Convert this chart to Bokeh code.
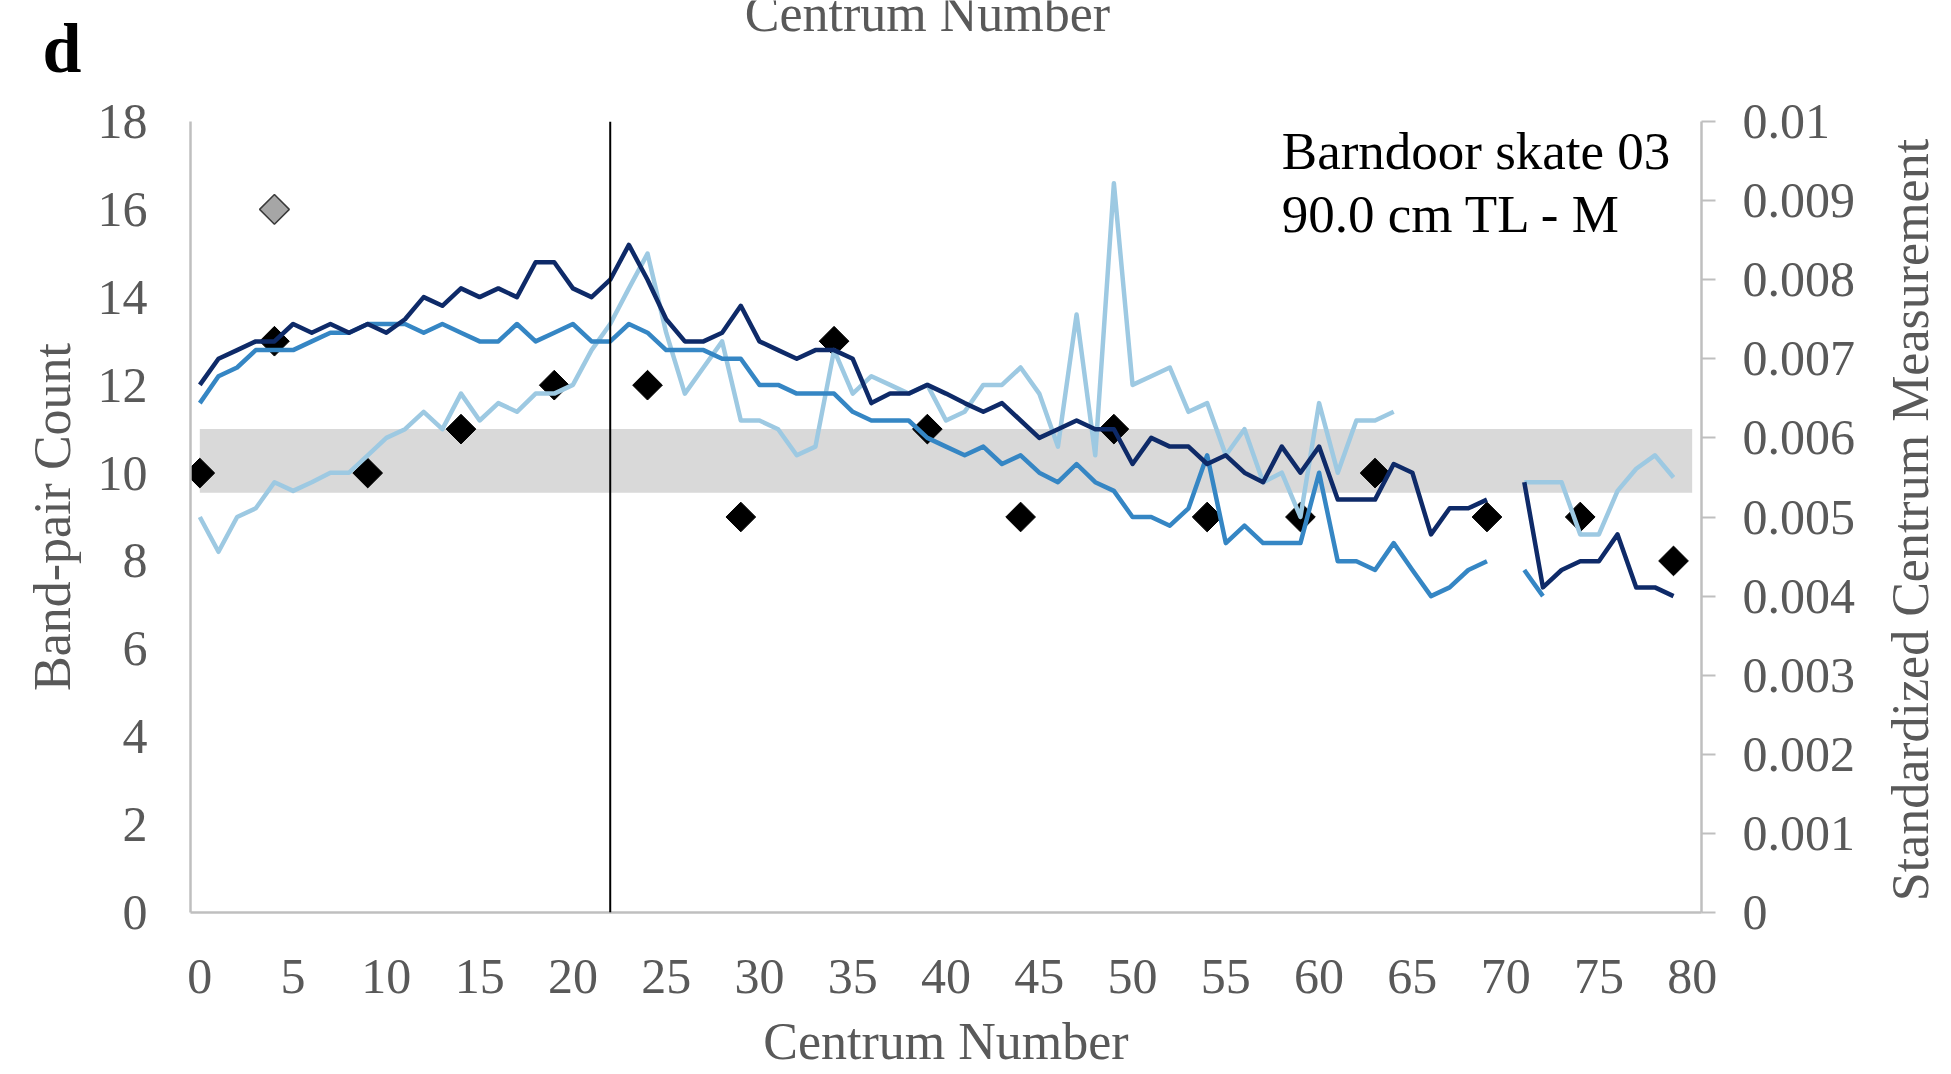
import math
from bokeh.plotting import figure
from bokeh.layouts import column, row
from bokeh.models import Range1d, LinearAxis, FixedTicker, CustomJSTickFormatter, Span, Label
from bokeh.core.properties import value
from bokeh.embed import file_html
from bokeh.resources import INLINE

NaN = float("nan")

# ---- data -------------------------------------------------------------
centrum = list(range(80))

# standardized centrum measurement, three series (right axis)
series_dark = [
    0.00667, 0.00700, 0.00711, 0.00722, 0.00722, 0.00744, 0.00733, 0.00744, 0.00733, 0.00744,
    0.00733, 0.00750, 0.00778, 0.00767, 0.00789, 0.00778, 0.00789, 0.00778, 0.00822, 0.00822,
    0.00789, 0.00778, 0.00800, 0.00844, 0.00800, 0.00750, 0.00722, 0.00722, 0.00733, 0.00767,
    0.00722, 0.00711, 0.00700, 0.00711, 0.00711, 0.00700, 0.00644, 0.00656, 0.00656, 0.00667,
    0.00656, 0.00644, 0.00633, 0.00644, 0.00622, 0.00600, 0.00611, 0.00622, 0.00611, 0.00611,
    0.00567, 0.00600, 0.00589, 0.00589, 0.00567, 0.00578, 0.00556, 0.00544, 0.00589, 0.00556,
    0.00589, 0.00522, 0.00522, 0.00522, 0.00567, 0.00556, 0.00478, 0.00511, 0.00511, 0.00522,
    NaN,     0.00544, 0.00411, 0.00433, 0.00444, 0.00444, 0.00478, 0.00411, 0.00411, 0.00400,
]
series_mid = [
    0.00644, 0.00678, 0.00689, 0.00711, 0.00711, 0.00711, 0.00722, 0.00733, 0.00733, 0.00744,
    0.00744, 0.00744, 0.00733, 0.00744, 0.00733, 0.00722, 0.00722, 0.00744, 0.00722, 0.00733,
    0.00744, 0.00722, 0.00722, 0.00744, 0.00733, 0.00711, 0.00711, 0.00711, 0.00700, 0.00700,
    0.00667, 0.00667, 0.00656, 0.00656, 0.00656, 0.00633, 0.00622, 0.00622, 0.00622, 0.00600,
    0.00589, 0.00578, 0.00589, 0.00567, 0.00578, 0.00556, 0.00544, 0.00567, 0.00544, 0.00533,
    0.00500, 0.00500, 0.00489, 0.00511, 0.00578, 0.00467, 0.00489, 0.00467, 0.00467, 0.00467,
    0.00556, 0.00444, 0.00444, 0.00433, 0.00467, 0.00433, 0.00400, 0.00411, 0.00433, 0.00444,
    NaN,     0.00433, 0.00400, NaN,     NaN,     NaN,     NaN,     NaN,     NaN,     NaN,
]
series_light = [
    0.00500, 0.00456, 0.00500, 0.00511, 0.00544, 0.00533, 0.00544, 0.00556, 0.00556, 0.00578,
    0.00600, 0.00611, 0.00633, 0.00611, 0.00656, 0.00622, 0.00644, 0.00633, 0.00656, 0.00656,
    0.00667, 0.00711, 0.00744, 0.00789, 0.00833, 0.00733, 0.00656, 0.00689, 0.00722, 0.00622,
    0.00622, 0.00611, 0.00578, 0.00589, 0.00711, 0.00656, 0.00678, 0.00667, 0.00656, 0.00667,
    0.00622, 0.00633, 0.00667, 0.00667, 0.00689, 0.00656, 0.00589, 0.00756, 0.00578, 0.00922,
    0.00667, 0.00678, 0.00689, 0.00633, 0.00644, 0.00578, 0.00611, 0.00544, 0.00556, 0.00500,
    0.00644, 0.00556, 0.00622, 0.00622, 0.00633, NaN,     NaN,     NaN,     NaN,     NaN,
    NaN,     0.00544, 0.00544, 0.00544, 0.00478, 0.00478, 0.00533, 0.00561, 0.00578, 0.00550,
]

# band-pair counts (left axis)
count_x = [0, 4, 9, 14, 19, 24, 29, 34, 39, 44, 49, 54, 59, 63, 69, 74, 79]
count_y = [10, 13, 10, 11, 12, 12, 9, 13, 11, 9, 11, 9, 9, 10, 9, 9, 8]
outlier_x = [4]
outlier_y = [16]

# shaded reference band and marker line
band_left, band_right = [0], [80]
band_low, band_high = [9.55], [11.0]
marker_centrum = 22

x_ticks = list(range(0, 81, 5))
left_ticks = list(range(0, 19, 2))
right_ticks = [0, 0.001, 0.002, 0.003, 0.004, 0.005, 0.006, 0.007, 0.008, 0.009, 0.01]

# ---- styling ------------------------------------------------------------
SERIF = "Liberation Serif"
GREY_TEXT = "#595959"
AXIS_GREY = "#bfbfbf"
C_DARK = "#0e2a68"
C_MID = "#3586c4"
C_LIGHT = "#9dc9e2"

TOTAL_W, TOTAL_H = 1951, 1074
HEAD_H = 90
SIDE_W = 80
MAIN_W, MAIN_H = TOTAL_W - SIDE_W, TOTAL_H - HEAD_H
BORDER_TOP, BORDER_BOTTOM = 31, 162


def bare(width, height, y_range, border_top=0, border_bottom=0):
    """A figure without axes, grid or outline, used for free-standing text."""
    f = figure(width=width, height=height, output_backend="svg", toolbar_location=None,
               x_range=Range1d(0, width), y_range=y_range,
               x_axis_location=None, y_axis_location=None, min_border=0,
               min_border_top=border_top, min_border_bottom=border_bottom)
    f.grid.visible = False
    f.outline_line_color = None
    f.background_fill_color = "white"
    f.border_fill_color = "white"
    return f


# header strip: panel letter and the tail of the caption above it
head = bare(TOTAL_W, HEAD_H, Range1d(0, HEAD_H))
head.text(x=[42], y=[41.7], text=["d"], text_font=value(SERIF), text_font_size="70px",
          text_font_style="bold", text_color="black", text_baseline="middle")
head.text(x=[927], y=[76.6], text=["Centrum Number"], text_font=value(SERIF),
          text_font_size="52px", text_color=GREY_TEXT, text_align="center",
          text_baseline="middle")

# main chart
p = figure(width=MAIN_W, height=MAIN_H, output_backend="svg", toolbar_location=None,
           x_range=Range1d(-0.5, 80.5), y_range=Range1d(0, 18),
           min_border_left=190, min_border_right=170,
           min_border_top=BORDER_TOP, min_border_bottom=BORDER_BOTTOM)
p.outline_line_color = None
p.xgrid.visible = False
p.ygrid.visible = False
p.background_fill_color = "white"
p.border_fill_color = "white"

p.extra_y_ranges = {"std": Range1d(0, 0.01)}

xa = p.xaxis[0]
xa.ticker = FixedTicker(ticks=x_ticks)
xa.axis_label = "Centrum Number"
xa.major_tick_in = 0
xa.major_tick_out = 0
xa.minor_tick_in = 0
xa.minor_tick_out = 0
xa.major_label_standoff = 47
xa.axis_label_standoff = 17

ya = p.yaxis[0]
ya.ticker = FixedTicker(ticks=left_ticks)
ya.axis_label = "Band-pair Count"
ya.major_tick_in = 0
ya.major_tick_out = 0
ya.minor_tick_in = 0
ya.minor_tick_out = 0
ya.major_label_standoff = 43
ya.axis_label_standoff = 14

ra = LinearAxis(y_range_name="std", ticker=FixedTicker(ticks=right_ticks))
ra.formatter = CustomJSTickFormatter(
    code="return tick < 1e-9 ? '0' : String(Number(tick.toFixed(3)));")
ra.major_tick_in = 0
ra.major_tick_out = 14
ra.minor_tick_in = 0
ra.minor_tick_out = 0
ra.major_label_standoff = 27
p.add_layout(ra, "right")

for ax in (xa, ya, ra):
    ax.axis_line_color = AXIS_GREY
    ax.axis_line_width = 2.5
    ax.major_tick_line_color = AXIS_GREY
    ax.major_tick_line_width = 2
    ax.major_label_text_font = SERIF
    ax.major_label_text_font_size = "50px"
    ax.major_label_text_color = GREY_TEXT
    ax.axis_label_text_font = SERIF
    ax.axis_label_text_font_size = "52px"
    ax.axis_label_text_font_style = "normal"
    ax.axis_label_text_color = GREY_TEXT

# shaded band
p.quad(left=band_left, right=band_right, bottom=band_low, top=band_high,
       fill_color="#d9d9d9", line_color=None)

# vertical marker line
p.add_layout(Span(location=marker_centrum, dimension="height",
                  line_color="black", line_width=2))

# band-pair counts
p.scatter(count_x, count_y, marker="square", angle=math.pi / 4, size=21,
          fill_color="black", line_color="black")
p.scatter(outlier_x, outlier_y, marker="square", angle=math.pi / 4, size=21,
          fill_color="#a6a6a6", line_color="#3a3a3a", line_width=1.5)

# standardized measurements
for ys, col in ((series_light, C_LIGHT), (series_mid, C_MID), (series_dark, C_DARK)):
    p.line(centrum, ys, y_range_name="std", line_color=col, line_width=4.5,
           line_join="round")

p.add_layout(Label(x=58.0, y=17.33, text="Barndoor skate 03", text_font=SERIF,
                   text_font_size="53px", text_color="black",
                   text_baseline="alphabetic"))
p.add_layout(Label(x=58.0, y=15.9, text="90.0 cm TL - M", text_font=SERIF,
                   text_font_size="53px", text_color="black",
                   text_baseline="alphabetic"))

# right-hand axis title, reading bottom to top; shares the chart's vertical frame
side = bare(SIDE_W, MAIN_H, Range1d(0, 18), BORDER_TOP, BORDER_BOTTOM)
side.text(x=[39], y=[8.93], text=["Standardized Centrum Measurement"], angle=math.pi / 2,
          text_font=value(SERIF), text_font_size="52px", text_color=GREY_TEXT,
          text_align="center", text_baseline="middle")

layout = column(head, row(p, side, spacing=0), spacing=0)
open("out.html", "w").write(file_html(layout, INLINE))
